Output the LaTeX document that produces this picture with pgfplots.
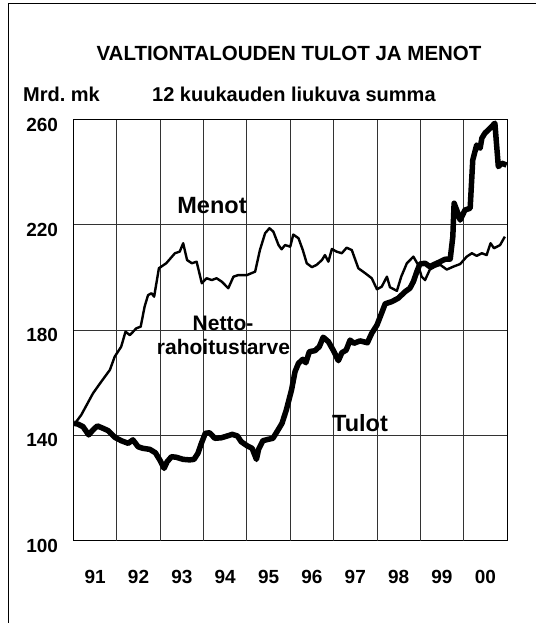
\documentclass[border=0pt]{standalone}
\usepackage{pgfplots}
\pgfplotsset{compat=1.18}
\usepackage{fontspec}
\setmainfont{Liberation Sans}
\frenchspacing
\begin{document}
\begin{tikzpicture}[x=1pt,y=1pt]
\useasboundingbox (0,0) rectangle (536,-623);
\fill[white] (0,0) rectangle (536,-623);
\draw[line width=1pt] (8.5,-623) -- (8.5,-4) -- (536,-4);
\begin{axis}[
  at={(73.5pt,-540.7pt)}, anchor=south west,
  scale only axis, width=433.5pt, height=421.2pt,
  xmin=1991, xmax=2001, ymin=100, ymax=260,
  axis line style={line width=1pt},
  xtick={1991.5,1992.5,...,2000.5},
  xticklabels={91,92,93,94,95,96,97,98,99,00},
  extra x ticks={1992,1993,...,2000},
  extra x tick labels={},
  extra x tick style={grid=major},
  ytick={100,140,...,260},
  ymajorgrids,
  grid style={line width=0.9pt, black!80},
  major tick length=0pt,
  /pgf/number format/assume math mode=true,
  tick label style={font=\bfseries\fontsize{19}{22}\selectfont},
  yticklabel style={xshift=-12pt, yshift=-5pt},
  xticklabel style={yshift=-26pt},
  clip=true,
]
\addplot[black, line width=2.4pt, line join=round] coordinates {
(1991.01,144.0)(1991.18,147.8)(1991.45,156.0)(1991.64,160.4)(1991.84,164.9)(1991.95,169.9)(1992.10,173.7)(1992.20,179.4)(1992.30,178.1)(1992.45,180.7)(1992.55,181.3)(1992.64,188.9)(1992.72,193.3)(1992.80,194.0)(1992.86,192.7)(1992.97,203.5)(1993.14,205.4)(1993.34,209.2)(1993.45,209.8)(1993.53,213.0)(1993.62,206.6)(1993.73,205.4)(1993.84,206.0)(1993.96,197.8)(1994.07,199.7)(1994.19,199.0)(1994.30,199.7)(1994.42,198.4)(1994.57,195.9)(1994.69,200.3)(1994.80,200.9)(1995.00,200.9)(1995.19,202.2)(1995.30,210.4)(1995.42,216.8)(1995.52,218.7)(1995.61,217.4)(1995.73,212.3)(1995.80,210.7)(1995.88,212.3)(1996.00,211.7)(1996.07,216.3)(1996.19,214.9)(1996.29,210.4)(1996.38,205.4)(1996.50,203.9)(1996.61,204.8)(1996.73,206.6)(1996.80,208.5)(1996.88,206.0)(1996.96,210.8)(1997.07,209.8)(1997.19,209.2)(1997.30,211.3)(1997.42,210.4)(1997.57,203.5)(1997.73,201.6)(1997.88,199.7)(1998.00,195.5)(1998.11,196.5)(1998.23,200.3)(1998.30,196.3)(1998.46,194.9)(1998.56,200.3)(1998.69,205.4)(1998.84,207.9)(1998.95,204.8)(1999.03,200.3)(1999.11,199.0)(1999.22,203.0)(1999.34,204.1)(1999.46,204.8)(1999.61,203.0)(1999.76,204.1)(1999.92,205.1)(2000.07,207.9)(2000.19,209.2)(2000.30,208.2)(2000.42,209.2)(2000.53,208.5)(2000.62,213.0)(2000.70,211.1)(2000.84,212.3)(2000.95,215.5)
};
\addplot[black, line width=5.5pt, line join=round] coordinates {
(1991.01,144.6)(1991.10,144.3)(1991.22,143.3)(1991.35,140.2)(1991.45,142.1)(1991.55,143.6)(1991.68,142.7)(1991.80,141.8)(1991.95,139.3)(1992.10,138.0)(1992.26,137.0)(1992.37,138.3)(1992.49,135.7)(1992.60,135.1)(1992.76,134.7)(1992.89,133.4)(1992.99,130.7)(1993.09,127.5)(1993.16,130.0)(1993.26,131.9)(1993.37,131.7)(1993.53,130.9)(1993.68,130.7)(1993.78,130.9)(1993.87,133.2)(1993.95,137.0)(1994.04,140.8)(1994.14,141.0)(1994.26,138.9)(1994.41,139.1)(1994.55,139.8)(1994.66,140.4)(1994.78,139.8)(1994.87,137.6)(1995.01,136.0)(1995.12,135.1)(1995.22,130.9)(1995.27,134.7)(1995.37,138.0)(1995.49,138.5)(1995.60,138.9)(1995.72,142.1)(1995.81,144.6)(1995.91,149.7)(1996.03,157.3)(1996.11,164.2)(1996.19,167.4)(1996.29,168.9)(1996.36,167.6)(1996.44,171.8)(1996.57,172.2)(1996.67,173.7)(1996.76,177.3)(1996.88,175.6)(1996.99,172.4)(1997.11,168.4)(1997.19,171.4)(1997.29,172.4)(1997.38,176.2)(1997.47,175.0)(1997.61,175.9)(1997.78,175.2)(1997.88,178.8)(1998.00,181.9)(1998.09,185.7)(1998.19,190.0)(1998.34,190.8)(1998.49,192.1)(1998.65,194.6)(1998.76,195.9)(1998.84,198.4)(1998.92,202.2)(1998.99,205.1)(1999.11,205.4)(1999.22,204.1)(1999.34,205.1)(1999.46,206.0)(1999.57,206.9)(1999.69,207.0)(1999.75,215.5)(1999.78,228.2)(1999.84,225.6)(1999.92,221.8)(2000.03,225.6)(2000.15,226.3)(2000.21,244.6)(2000.30,250.3)(2000.38,249.1)(2000.42,252.9)(2000.49,254.8)(2000.61,256.7)(2000.72,258.6)(2000.80,242.1)(2000.88,243.4)(2000.99,242.7)
};
\end{axis}
\node[inner sep=0, font=\bfseries\fontsize{20.5}{24}\selectfont] at (289,-53) {VALTIONTALOUDEN TULOT JA MENOT};
\node[inner sep=0, anchor=west, font=\bfseries\fontsize{20}{24}\selectfont] at (23,-94) {Mrd. mk};
\node[inner sep=0, anchor=west, font=\bfseries\fontsize{20}{24}\selectfont] at (152,-94) {12 kuukauden liukuva summa};
\node[inner sep=0, font=\bfseries\fontsize{23.5}{28}\selectfont] at (212,-206) {Menot};
\node[inner sep=0, font=\bfseries\fontsize{21}{24}\selectfont] at (223,-323) {Netto-};
\node[inner sep=0, font=\bfseries\fontsize{21}{24}\selectfont] at (223.5,-347) {rahoitustarve};
\node[inner sep=0, font=\bfseries\fontsize{23.5}{28}\selectfont] at (360,-423) {Tulot};
\end{tikzpicture}
\end{document}
